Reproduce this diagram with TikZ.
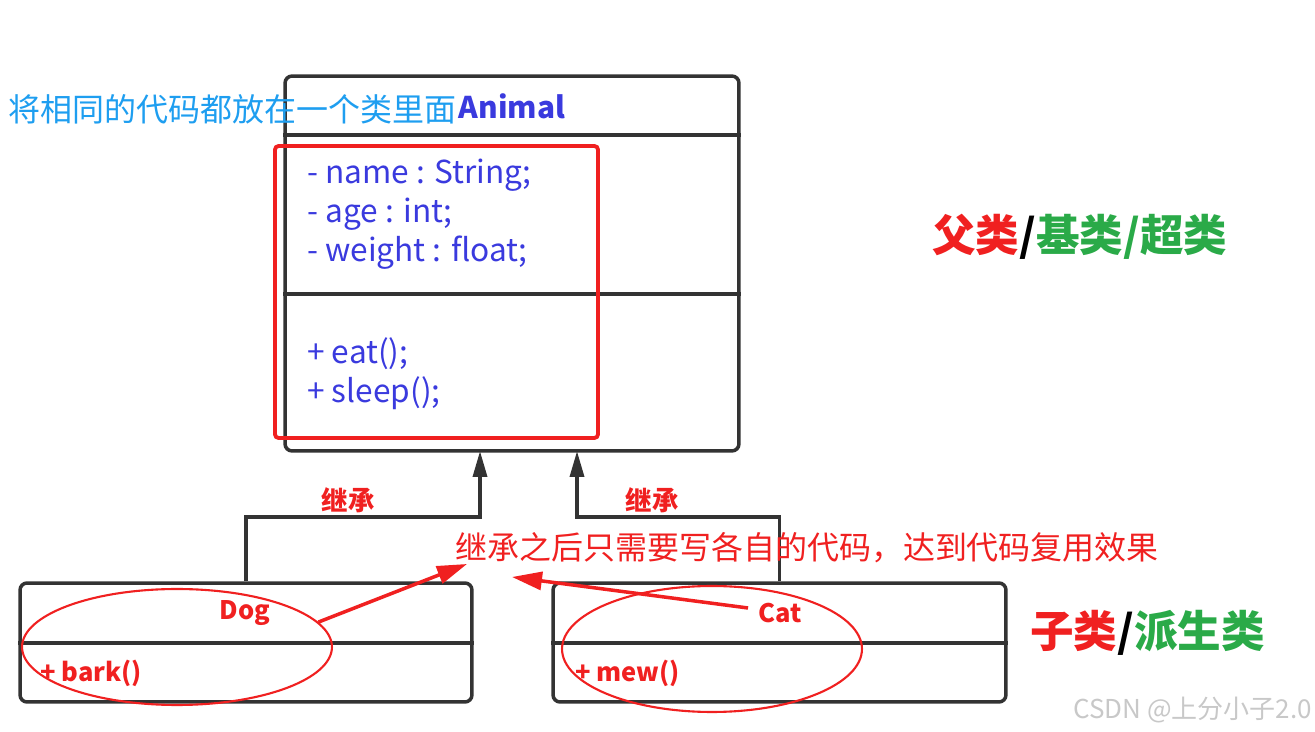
\documentclass[tikz,border=0pt]{standalone}
\usepackage{fontspec}
\setmainfont{Noto Sans CJK SC}
\usepackage{xcolor}
\usetikzlibrary{arrows.meta,positioning,shapes.geometric}

\definecolor{boxgray}{RGB}{51,51,51}
\definecolor{memberblue}{RGB}{58,58,222}
\definecolor{noteblue}{RGB}{30,158,240}
\definecolor{notered}{RGB}{240,32,32}
\definecolor{leafgreen}{RGB}{42,170,72}
\definecolor{markgray}{RGB}{200,200,200}

\begin{document}
\begin{tikzpicture}[
  x=0.02cm, y=-0.02cm,
  >=Stealth,
  classbox/.style={rectangle, rounded corners=4pt, draw=boxgray, line width=2pt, inner sep=0pt},
  divider/.style={draw=boxgray, line width=2pt},
  member/.style={anchor=west, align=left, inner sep=0pt, text=memberblue,
                 font=\fontsize{18}{22.1}\selectfont},
  childtxt/.style={text=notered, inner sep=0pt, font=\bfseries\fontsize{14.5}{16}\selectfont},
  inherit/.style={-{Triangle[length=0.52cm,width=0.28cm]}, draw=boxgray, line width=2pt},
  redring/.style={ellipse, draw=notered, line width=1.2pt, inner sep=0pt},
  pointer/.style={-{Triangle[length=0.6cm,width=0.36cm]}, draw=notered, fill=notered, line width=2pt},
  bigtag/.style={anchor=west, inner sep=0pt, font=\bfseries\fontsize{24.8}{26}\selectfont},
]
\useasboundingbox (0,0) rectangle (1315,732);

% Parent class Animal
\node[classbox, minimum width=9.08cm, minimum height=7.5cm] (animal) at (512,263.5) {};
\draw[divider] (animal.west |- 0,135) -- (animal.east |- 0,135);
\draw[divider] (animal.west |- 0,294) -- (animal.east |- 0,294);
\node[text=memberblue, inner sep=0pt, font=\bfseries\fontsize{17}{20}\selectfont] (animalname) at (512,106) {Animal};
\node[member] (attrs) at (307,214) {- name : String;\\- age : int;\\- weight : float;};
\node[member] (methods) at (307,373.5) {+ eat();\\+ sleep();};

% shared code highlight
\node[rectangle, rounded corners=2pt, draw=notered, line width=2.2pt,
      minimum width=6.46cm, minimum height=5.84cm] (shared) at (436.5,292) {};
\node[anchor=west, inner sep=0pt, text=noteblue, font=\fontsize{18.2}{20}\selectfont] (sharenote) at (8,109)
  {将相同的代码都放在一个类里面};

% Child classes
\node[classbox, minimum width=9.04cm, minimum height=2.38cm] (dog) at (246,642.5) {};
\node[classbox, minimum width=9.06cm, minimum height=2.38cm] (cat) at (779.5,642.5) {};
\foreach \c in {dog,cat} {\draw[divider] (\c.west |- 0,643) -- (\c.east |- 0,643);}
\node[childtxt] (dogname) at (245,613) {Dog};
\node[childtxt, anchor=west] (dogbark) at (40,673) {+ bark()};
\node[childtxt] (catname) at (780,613) {Cat};
\node[childtxt, anchor=west] (catmew) at (575,673) {+ mew()};

% Inheritance arrows
\coordinate (jointL) at (480,517);
\coordinate (jointR) at (577,517);
\coordinate (headL) at (480,451);
\coordinate (headR) at (577,451);
\draw[inherit] (dog.north) |- (jointL) -- (headL);
\draw[inherit] (cat.north) |- (jointR) -- (headR);
\node[childtxt, font=\bfseries\fontsize{15}{16}\selectfont] (inhL) at (348,500) {继承};
\node[childtxt, font=\bfseries\fontsize{15}{16}\selectfont] (inhR) at (652,500) {继承};

% Notes on the children
\node[redring, minimum width=6.2cm, minimum height=2.32cm] (dogring) at (177,647) {};
\node[redring, minimum width=6cm, minimum height=2.52cm] (catring) at (712,649) {};
\node[anchor=west, inner sep=0pt, text=notered, font=\fontsize{18.2}{20}\selectfont] (reuse) at (455,548)
  {继承之后只需要写各自的代码，达到代码复用效果};
\coordinate (tipL) at (467,564);
\coordinate (tipR) at (512,577);
\draw[pointer] (dogring.10) -- (tipL);
\draw[pointer] ([xshift=-0.2cm, yshift=0.1cm]catname.west) -- (tipR);

% Tags
\node[bigtag] (parenttag) at (932,237)
  {\textcolor{notered}{父类}\textcolor{black}{/}\textcolor{leafgreen}{基类/超类}};
\node[bigtag] (childtag) at (1030,633)
  {\textcolor{notered}{子类}\textcolor{black}{/}\textcolor{leafgreen}{派生类}};
\node[anchor=west, inner sep=0pt, text=markgray, font=\fontsize{14.8}{16}\selectfont] (wmark) at (1073,710)
  {CSDN @上分小子2.0};
\end{tikzpicture}
\end{document}
